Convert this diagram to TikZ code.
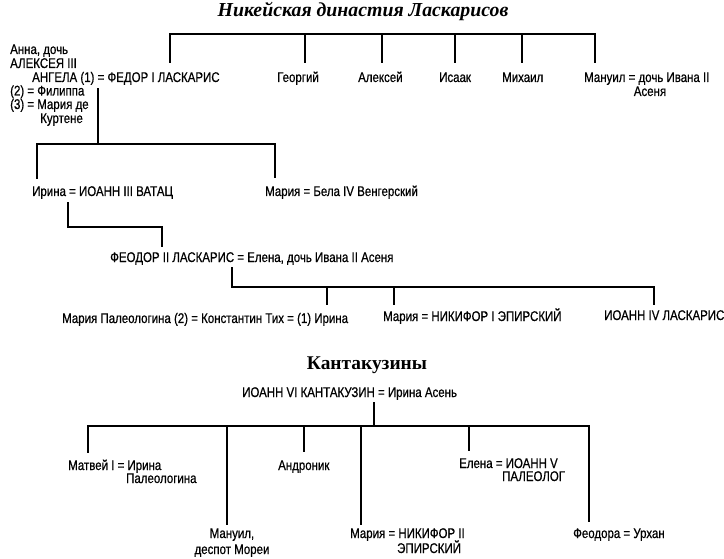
\documentclass[tikz,border=0pt]{standalone}
\usepackage{fontspec}
\setmainfont{Liberation Sans}[FakeStretch=0.82,FakeBold=0.6]
\newfontfamily\ttlfont{Liberation Serif}
\usetikzlibrary{calc}
\begin{document}
\begin{tikzpicture}[x=1pt,y=-1pt,
  lbl/.style={inner sep=0pt,anchor=base west,text height=10pt,text depth=3pt,font=\fontsize{14}{14}\selectfont},
  ctr/.style={lbl,anchor=base},
  ttlit/.style={inner sep=0pt,anchor=base,font=\ttlfont\bfseries\itshape\fontsize{19.8}{20}\selectfont},
  ttlup/.style={inner sep=0pt,anchor=base,font=\ttlfont\bfseries\fontsize{19.4}{20}\selectfont},
  ln/.style={line width=1.3pt,line cap=rect}]
\useasboundingbox[fill=white] (0,0) rectangle (724,559);

% ---------- Nicaea ----------
\node[ttlit] (title1) at (363,17) {Никейская династия Ласкарисов};

\node[lbl] (anna1) at (10,54) {Анна, дочь};
\node[lbl] (anna2) at (10,68) {АЛЕКСЕЯ III};
\node[lbl] (fedor) at (32,82) {АНГЕЛА (1) = ФЕДОР I ЛАСКАРИС};
\node[lbl] (anna4) at (10,95.5) {(2) = Филиппа};
\node[lbl] (anna5) at (10,109) {(3) = Мария де};
\node[lbl] (anna6) at (40,123) {Куртене};

\node[lbl] (georgiy) at (277,82) {Георгий};
\node[lbl] (aleksey) at (358,82) {Алексей};
\node[lbl] (isaak) at (439,82) {Исаак};
\node[lbl] (mikhail) at (502,82) {Михаил};
\node[lbl] (manuil) at (584,82) {Мануил = дочь Ивана II};
\node[ctr] (manuilb) at (650,96) {Асеня};

\node[lbl] (irina) at (32,196) {Ирина = ИОАНН III ВАТАЦ};
\node[lbl] (maria1) at (265,196) {Мария = Бела IV Венгерский};

\node[lbl] (feodor2) at (110,262) {ФЕОДОР II ЛАСКАРИС = Елена, дочь Ивана II Асеня};

\node[lbl] (tikh) at (62,323) {Мария Палеологина (2) = Константин Тих = (1) Ирина};
\node[lbl] (nikifor1) at (383,321) {Мария = НИКИФОР I ЭПИРСКИЙ};
\node[lbl] (ioann4) at (604,320) {ИОАНН IV ЛАСКАРИС};

% junctions
\coordinate (ja) at (170,34);
\coordinate (jb) at (595,34);
\coordinate (jc) at (98,144);
\coordinate (jd) at (37,144);
\coordinate (je) at (275,144);
\coordinate (jf) at (68,227);
\coordinate (jg) at (162,227);
\coordinate (jh) at (232,287);
\coordinate (ji) at (654,287);

\draw[ln] (ja) -- (jb);
\draw[ln] (ja) -- ($(ja |- fedor.north)+(0,-9)$);
\draw[ln] (305,34) -- ($(305,34 |- georgiy.north)+(0,-9)$);
\draw[ln] (382,34) -- ($(382,34 |- aleksey.north)+(0,-9)$);
\draw[ln] (455,34) -- ($(455,34 |- isaak.north)+(0,-9)$);
\draw[ln] (522,34) -- ($(522,34 |- mikhail.north)+(0,-9)$);
\draw[ln] (jb) -- ($(jb |- manuil.north)+(0,-9)$);

\draw[ln] ($(jc |- fedor.south)+(0,3)$) -- (jc);
\draw[ln] (jd) -- (je);
\draw[ln] (jd) -- ($(jd |- irina.north)+(0,-7)$);
\draw[ln] (je) -- ($(je |- maria1.north)+(0,-8)$);

\draw[ln] ($(jf |- irina.south)+(0,3)$) -- (jf) -- (jg) -- ($(jg |- feodor2.north)+(0,-5)$);

\draw[ln] ($(jh |- feodor2.south)+(0,2)$) -- (jh) -- (ji);
\draw[ln] (327,287) -- ($(327,287 |- tikh.north)+(0,-8)$);
\draw[ln] (394,287) -- ($(394,287 |- nikifor1.north)+(0,-6)$);
\draw[ln] (ji) -- ($(ji |- ioann4.north)+(0,-5)$);

% ---------- Kantakuzenoi ----------
\node[ttlup] (title2) at (367,370) {Кантакузины};
\node[lbl] (ioann6) at (242,397) {ИОАНН VI КАНТАКУЗИН = Ирина Асень};

\node[lbl] (matvey) at (68,470) {Матвей I = Ирина};
\node[lbl] (matveyb) at (126,483) {Палеологина};
\node[lbl] (andronik) at (278,470) {Андроник};
\node[ctr] (manuil2) at (232,538) {Мануил,};
\node[ctr] (manuil2b) at (232,554) {деспот Мореи};
\node[lbl] (maria2) at (350,538) {Мария = НИКИФОР II};
\node[lbl] (maria2b) at (397,553) {ЭПИРСКИЙ};
\node[lbl] (elena) at (459,468) {Елена = ИОАНН V};
\node[lbl] (elenab) at (502,481) {ПАЛЕОЛОГ};
\node[lbl] (feodora) at (573,538) {Феодора = Урхан};

\coordinate (jk) at (374,426);
\coordinate (jl) at (88,426);
\coordinate (jm) at (589,426);

\draw[ln] ($(jk |- ioann6.south)+(0,2)$) -- (jk);
\draw[ln] (jl) -- (jm);
\draw[ln] (jl) -- ($(jl |- matvey.north)+(0,-7)$);
\draw[ln] (227,426) -- ($(227,426 |- manuil2.north)+(0,-3)$);
\draw[ln] (304,426) -- ($(304,426 |- andronik.north)+(0,-8)$);
\draw[ln] (361,426) -- ($(361,426 |- maria2.north)+(0,-3)$);
\draw[ln] (469,426) -- ($(469,426 |- elena.north)+(0,-7)$);
\draw[ln] (jm) -- ($(jm |- feodora.north)+(0,-6)$);
\end{tikzpicture}
\end{document}
